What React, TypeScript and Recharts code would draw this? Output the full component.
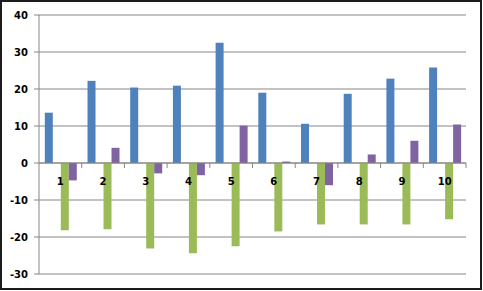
import React from "react";
import { BarChart, Bar, XAxis, YAxis, CartesianGrid, ReferenceLine } from "recharts";

const categories = ["1", "2", "3", "4", "5", "6", "7", "8", "9", "10"];
const series1 = [13.6, 22.2, 20.4, 20.9, 32.5, 19.0, 10.6, 18.7, 22.8, 25.8];
const series2: (number | null)[] = [null, null, null, null, null, null, null, null, null, null];
const series3 = [-18.2, -17.9, -23.1, -24.4, -22.5, -18.5, -16.6, -16.6, -16.6, -15.2];
const series4 = [-4.7, 4.1, -2.8, -3.3, 10.1, 0.4, -6.0, 2.3, 6.0, 10.4];
const yTicks = [-30, -20, -10, 0, 10, 20, 30, 40];

const data = categories.map((c, i) => ({
  cat: c,
  s1: series1[i],
  s2: series2[i],
  s3: series3[i],
  s4: series4[i],
}));

const W = 483;
const H = 291;
const XH = 1;
const M = { top: 15, right: 17, bottom: 16, left: 0 };
const YW = 39;
const PLOT_W = W - M.left - M.right - YW;
const PLOT_H = H - M.top - M.bottom - XH;
const Y_MIN = -30;
const Y_MAX = 40;
const ZERO_SHIFT = (PLOT_H * (0 - Y_MIN)) / (Y_MAX - Y_MIN);
const BAND = PLOT_W / categories.length;
const GRID = "#868686";
const FONT = "'DejaVu Sans', Verdana, sans-serif";

const CatTick = (props: any) => {
  const { x, y, payload } = props;
  const ty = y - ZERO_SHIFT;
  return (
    <g>
      <line x1={x + BAND / 2} x2={x + BAND / 2} y1={ty} y2={ty + 5} stroke={GRID} strokeWidth={1} />
      <text
        x={x}
        y={ty + 22}
        textAnchor="middle"
        fontFamily={FONT}
        fontWeight="bold"
        fontSize={10}
        fill="#000"
      >
        {payload.value}
      </text>
    </g>
  );
};

export default function App() {
  return (
    <div style={{ position: "absolute", left: 0, top: 0, width: W, height: H, background: "#fff" }}>
      <div
        style={{
          position: "absolute",
          left: 0,
          top: 0,
          width: 482,
          height: 290,
          border: "2px solid #1c1c1c",
          boxSizing: "border-box",
        }}
      />
      <div style={{ position: "absolute", left: 0, top: 0 }}>
        <BarChart width={W} height={H} data={data} margin={M} barGap={0} barCategoryGap="13.6%">
          <CartesianGrid vertical={false} stroke={GRID} strokeWidth={1} />
          <YAxis
            width={YW}
            domain={[Y_MIN, Y_MAX]}
            ticks={yTicks}
            interval={0}
            axisLine={{ stroke: GRID }}
            tickLine={{ stroke: GRID }}
            tickSize={5}
            tickMargin={6}
            tick={{ fontFamily: FONT, fontWeight: "bold", fontSize: 10, fill: "#000" }}
          />
          <Bar dataKey="s1" fill="#4F81BD" isAnimationActive={false} />
          <Bar dataKey="s2" fill="#C0504D" isAnimationActive={false} />
          <Bar dataKey="s3" fill="#9BBB59" isAnimationActive={false} />
          <Bar dataKey="s4" fill="#8064A2" isAnimationActive={false} />
          <ReferenceLine y={0} stroke={GRID} strokeWidth={1} />
          <XAxis
            dataKey="cat"
            height={XH}
            axisLine={false}
            tickLine={false}
            tickSize={0}
            tickMargin={0}
            interval={0}
            tick={(p: any) => <CatTick {...p} />}
          />
        </BarChart>
      </div>
    </div>
  );
}
